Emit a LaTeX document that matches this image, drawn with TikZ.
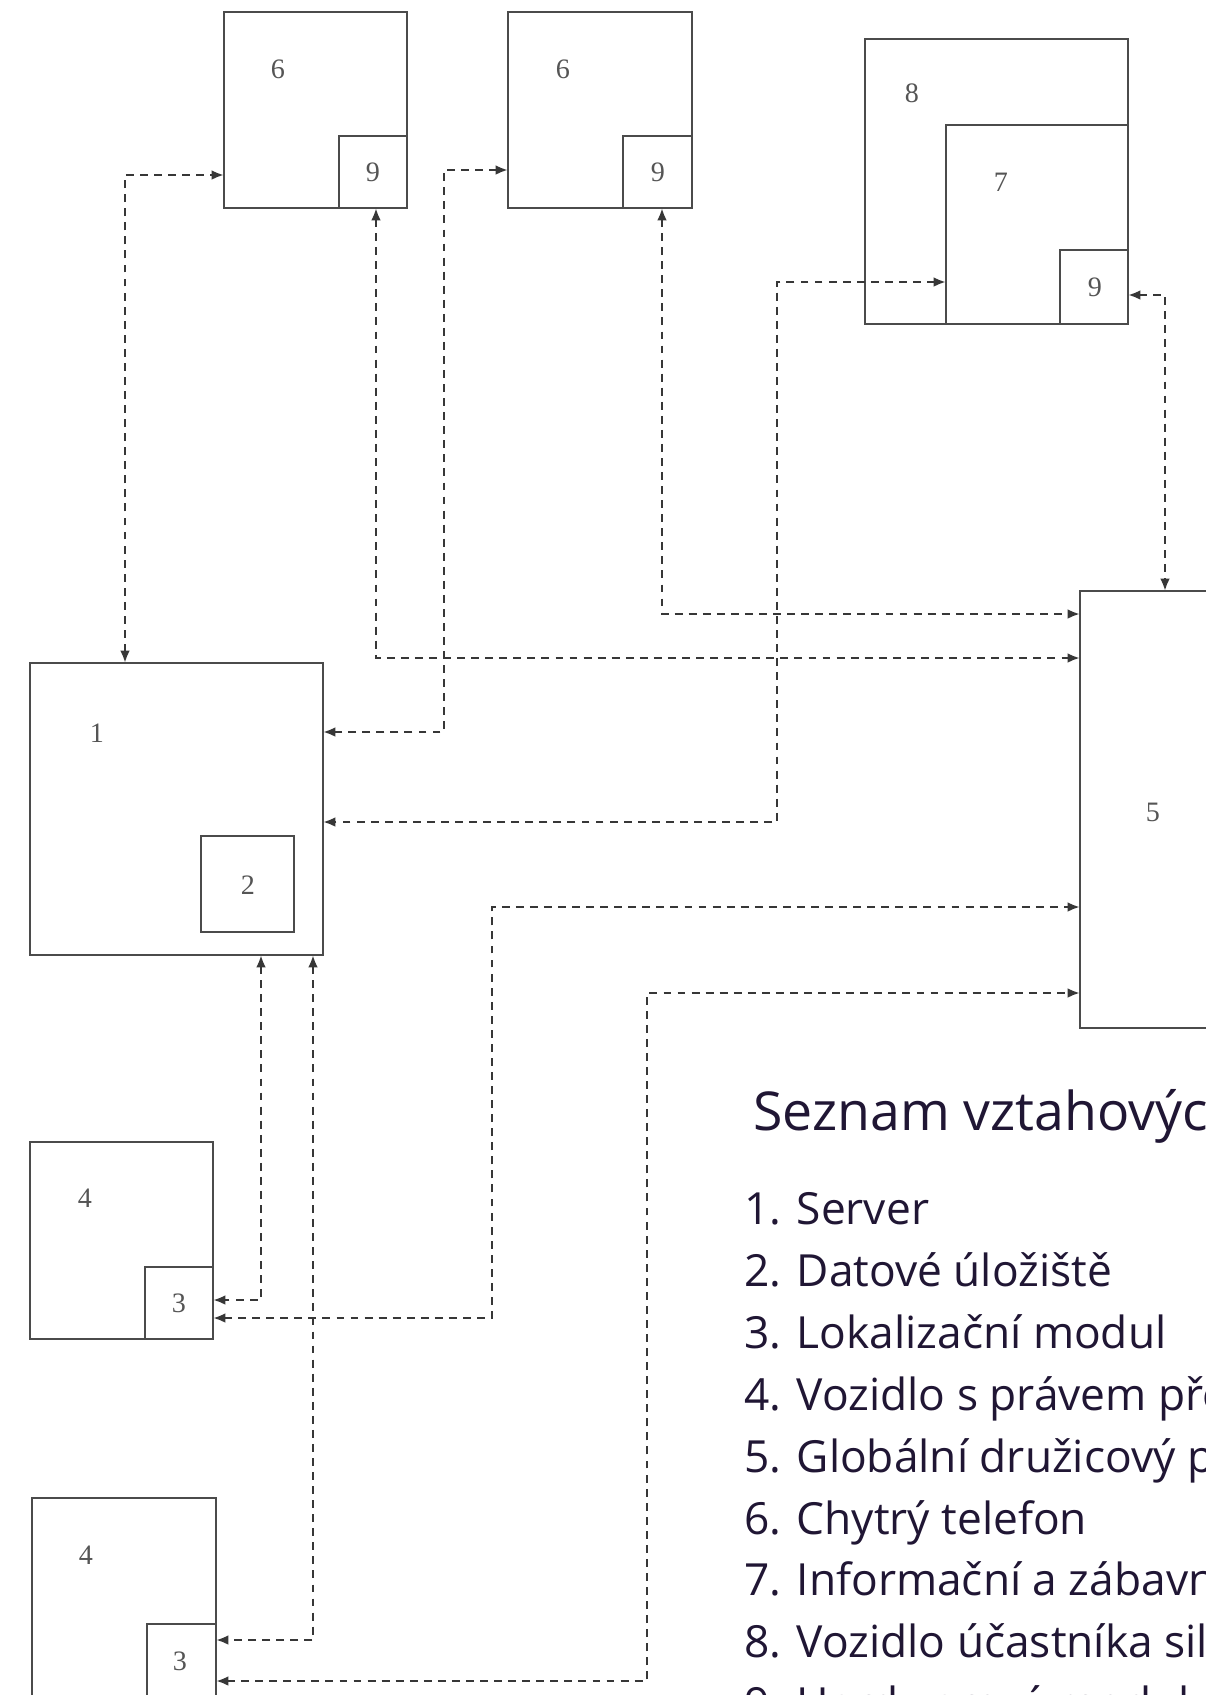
\documentclass[tikz,border=0pt]{standalone}
\usepackage{fontspec}
\setmainfont{Liberation Serif}
\newfontfamily\listfont{Open Sans}
\usetikzlibrary{positioning, calc, arrows.meta}
\newdimen\pxu \pxu=0.02cm
\definecolor{boxgray}{RGB}{75,75,75}
\definecolor{dashgray}{RGB}{55,55,55}
\definecolor{numgray}{RGB}{85,85,85}
\definecolor{listink}{RGB}{32,22,52}
\tikzstyle{Box} = [draw=boxgray, line width=1.6pt, fill=white,
inner sep=0pt, outer sep=0pt]
\tikzstyle{Num} = [text=numgray, inner sep=0pt,
font=\fontsize{16}{16}\selectfont]
\tikzstyle{Link} = [
dashgray,
line width=1.4pt,
dash pattern=on 4.5pt off 3.5pt,
{Latex[length=7pt,width=5.5pt]}-{Latex[length=7pt,width=5.5pt]}]
\tikzstyle{Item} = [text=listink, inner sep=0pt, anchor=base west,
font=\listfont\fontsize{25.2}{25.2}\selectfont]

\begin{document}
\begin{tikzpicture}[x=0.02cm, y=-0.02cm]
    \useasboundingbox (0,0) rectangle (1206,1695);
    \fill[white] (0,0) rectangle (1206,1695);
    \clip (0,0) rectangle (1206,1695);
    \node (6a) [Box, anchor=north west, minimum width=183\pxu, minimum height=196\pxu] at (224,12) {};
    \node (9a) [Box, minimum width=68\pxu, minimum height=72\pxu, above left=0pt and 0pt of 6a.south east] {};
    \node (6b) [Box, anchor=north west, minimum width=184\pxu, minimum height=196\pxu] at (508,12) {};
    \node (9b) [Box, minimum width=69\pxu, minimum height=72\pxu, above left=0pt and 0pt of 6b.south east] {};
    \node (8) [Box, anchor=north west, minimum width=263\pxu, minimum height=285\pxu] at (865,39) {};
    \node (7) [Box, minimum width=182\pxu, minimum height=199\pxu, above left=0pt and 0pt of 8.south east] {};
    \node (9c) [Box, minimum width=68\pxu, minimum height=74\pxu, above left=0pt and 0pt of 7.south east] {};
    \node (1) [Box, anchor=north west, minimum width=293\pxu, minimum height=292\pxu] at (30,663) {};
    \node (2) [Box, minimum width=93\pxu, minimum height=96\pxu, above left=23\pxu and 29\pxu of 1.south east] {};
    \node (5) [Box, anchor=north west, minimum width=180\pxu, minimum height=437\pxu] at (1080,591) {};
    \node (4a) [Box, anchor=north west, minimum width=183\pxu, minimum height=197\pxu] at (30,1142) {};
    \node (3a) [Box, minimum width=68\pxu, minimum height=72\pxu, above left=0pt and 0pt of 4a.south east] {};
    \node (4b) [Box, anchor=north west, minimum width=184\pxu, minimum height=207\pxu] at (32,1498) {};
    \node (3b) [Box, minimum width=69\pxu, minimum height=81\pxu, above left=0pt and 0pt of 4b.south east] {};
    \node (n6a) [Num] at (278,69) {6};
    \node (n9a) [Num] at (373,172) {9};
    \node (n6b) [Num] at (563,69) {6};
    \node (n9b) [Num] at (658,172) {9};
    \node (n8) [Num] at (912,93) {8};
    \node (n7) [Num] at (1001,182) {7};
    \node (n9c) [Num] at (1095,287) {9};
    \node (n1) [Num] at (97,733) {1};
    \node (n2) [Num] at (248,885) {2};
    \node (n5) [Num] at (1153,812) {5};
    \node (n4a) [Num] at (85,1198) {4};
    \node (n3a) [Num] at (179,1303) {3};
    \node (n4b) [Num] at (86,1555) {4};
    \node (n3b) [Num] at (180,1661) {3};
    \coordinate (k1) at (125,175);
    \coordinate (k2) at (376,658);
    \coordinate (k3) at (662,614);
    \coordinate (k4) at (444,170);
    \coordinate (k5) at (444,732);
    \coordinate (k6) at (777,282);
    \coordinate (k7) at (777,822);
    \coordinate (k8) at (1165,295);
    \coordinate (k9) at (261,1300);
    \coordinate (k10) at (313,1640);
    \coordinate (k11) at (492,1318);
    \coordinate (k12) at (492,907);
    \coordinate (k13) at (647,1681);
    \coordinate (k14) at (647,993);
    \draw[Link] (1.north -| k1) |- (6a.west |- k1);
    \draw[Link] (9a.south -| k2) |- (5.west |- k2);
    \draw[Link] (9b.south -| k3) |- (5.west |- k3);
    \draw[Link] (6b.west |- k4) -| (k5) -- (1.east |- k5);
    \draw[Link] (7.west |- k6) -| (k7) -- (1.east |- k7);
    \draw[Link] (9c.east |- k8) -| (5.north -| k8);
    \draw[Link] (1.south -| k9) |- (3a.east |- k9);
    \draw[Link] (1.south -| k10) |- (3b.east |- k10);
    \draw[Link] (3a.east |- k11) -| (k12) -- (5.west |- k12);
    \draw[Link] (3b.east |- k13) -| (k14) -- (5.west |- k14);
    \node (title) [Item, font=\listfont\fontsize{30.5}{30.5}\selectfont] at (753,1130) {Seznam vztahových};
    \node (i1) [Item] at (744,1224) {1. Server};
    \node (i2) [Item] at (744,1286) {2. Datové úložiště};
    \node (i3) [Item] at (744,1348) {3. Lokalizační modul};
    \node (i4) [Item] at (744,1410) {4. Vozidlo s právem přednosti};
    \node (i5) [Item] at (744,1472) {5. Globální družicový polohový};
    \node (i6) [Item] at (744,1534) {6. Chytrý telefon};
    \node (i7) [Item] at (744,1595) {7. Informační a zábavní};
    \node (i8) [Item] at (744,1657) {8. Vozidlo účastníka silničního};
    \node (i9) [Item] at (744,1719) {9. Hardwarový modul};
\end{tikzpicture}
\end{document}
